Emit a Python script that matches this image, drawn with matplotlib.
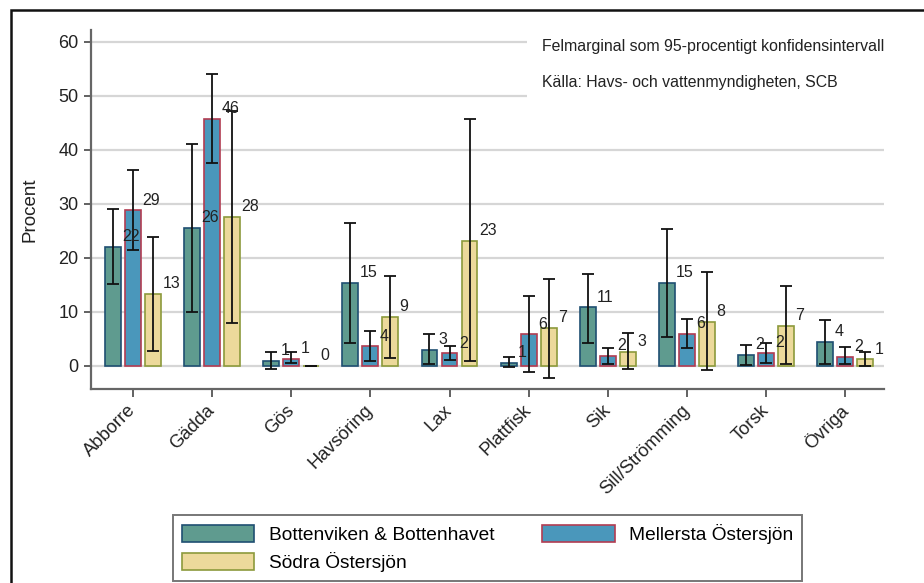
import numpy as np
import matplotlib
matplotlib.use('Agg')
import matplotlib.pyplot as plt
from matplotlib.patches import Rectangle

plt.rcParams['font.family'] = ['Liberation Sans', 'DejaVu Sans']

# andel per art och havsområde, med 95 % konfidensintervall
species = ['Abborre', 'Gädda', 'Gös', 'Havsöring', 'Lax', 'Plattfisk', 'Sik',
           'Sill/Strömming', 'Torsk', 'Övriga']

botten = [22.0, 25.6, 0.9, 15.4, 2.9, 0.6, 10.8, 15.4, 2.0, 4.4]
botten_lo = [15.1, 10.0, -0.6, 4.3, 0.3, -0.3, 4.3, 5.4, 0.1, 0.3]
botten_hi = [29.0, 41.1, 2.6, 26.4, 5.8, 1.7, 17.0, 25.3, 3.9, 8.5]

mellersta = [28.8, 45.8, 1.3, 3.6, 2.3, 5.8, 1.8, 5.9, 2.4, 1.7]
mellersta_lo = [21.4, 37.6, 0.5, 0.8, 1.1, -1.2, 0.3, 3.3, 0.5, 0.3]
mellersta_hi = [36.2, 54.0, 2.6, 6.5, 3.6, 13.0, 3.2, 8.7, 4.2, 3.4]

sodra = [13.3, 27.6, 0.0, 9.1, 23.2, 7.0, 2.6, 8.2, 7.4, 1.2]
sodra_lo = [2.8, 7.9, 0.0, 1.5, 0.8, -2.2, -0.6, -0.7, 0.3, -0.1]
sodra_hi = [23.8, 47.2, 0.0, 16.7, 45.8, 16.1, 6.1, 17.4, 14.8, 2.6]

series = [
    ('Bottenviken & Bottenhavet', botten, botten_lo, botten_hi, '#5f9b8f', '#1f4f72'),
    ('Mellersta Östersjön', mellersta, mellersta_lo, mellersta_hi, '#4a97bb', '#b23c52'),
    ('Södra Östersjön', sodra, sodra_lo, sodra_hi, '#ecd99b', '#8c9a3c'),
]

fig = plt.figure(figsize=(9.24, 5.83), dpi=100)
ax = fig.add_axes([0.0985, 0.3328, 0.8582, 0.6157])

x = np.arange(len(species))
width = 0.2
step = 0.253

handles = []
for i, (name, vals, lo, hi, face, edge) in enumerate(series):
    pos = x + (i - 1) * step
    vals = np.array(vals)
    err = [vals - np.array(lo), np.array(hi) - vals]
    b = ax.bar(pos, vals, width, color=face, edgecolor=edge, linewidth=1.2,
               label=name, zorder=3)
    handles.append(b)
    ax.errorbar(pos, vals, yerr=err, fmt='none', ecolor='#111111',
                elinewidth=1.3, capsize=4, capthick=1.3, zorder=5)
    for p, v in zip(pos, vals):
        ax.annotate(f'{v:.0f}', xy=(p + width / 2, v), xytext=(1, 2),
                    textcoords='offset points', ha='left', va='bottom',
                    fontsize=11.5, color='#222222', zorder=6)

ax.set_xlim(-0.53, 9.49)
ax.set_ylim(-4.3, 62.2)
ax.set_yticks(range(0, 61, 10))
ax.set_xticks(x)
ax.set_xticklabels(species, rotation=45, ha='right', va='center',
                   rotation_mode='anchor')
ax.tick_params(axis='y', labelsize=13, length=5, width=1.3, color='#555555',
               pad=4, labelcolor='#222222')
ax.tick_params(axis='x', labelsize=13.2, length=6, width=1.3, color='#555555',
               pad=7.5, labelcolor='#222222')
ax.grid(axis='y', color='#d6d6d6', linewidth=1.6, zorder=0)
ax.set_axisbelow(True)
for s in ['top', 'right']:
    ax.spines[s].set_visible(False)
for s in ['left', 'bottom']:
    ax.spines[s].set_color('#666666')
    ax.spines[s].set_linewidth(1.6)
ax.set_ylabel('Procent', fontsize=13.5, color='#222222')
ax.yaxis.set_label_coords(-0.066, 0.5)

# vit ruta bakom källtexten
ax.add_patch(Rectangle((0.55, 0.78), 0.45, 0.22, transform=ax.transAxes,
                       facecolor='white', edgecolor='none', zorder=1))
ax.text(0.569, 0.953, 'Felmarginal som 95-procentigt konfidensintervall',
        transform=ax.transAxes, fontsize=11.4, va='center', color='#222222',
        zorder=2)
ax.text(0.569, 0.855, 'Källa: Havs- och vattenmyndigheten, SCB',
        transform=ax.transAxes, fontsize=11.4, va='center', color='#222222',
        zorder=2)

leg = fig.legend([handles[0], handles[2], handles[1]],
                 [series[0][0], series[2][0], series[1][0]],
                 ncol=2, loc='lower left',
                 bbox_to_anchor=(173 / 924, 2 / 583),
                 fontsize=13.8, frameon=True, fancybox=False,
                 handlelength=3.8, handleheight=1.0, handletextpad=0.75,
                 columnspacing=2.5, labelspacing=0.45, borderpad=0.45,
                 borderaxespad=0)
leg.get_frame().set_edgecolor('#555555')
leg.get_frame().set_linewidth(1.4)

# ram runt hela figuren
fig.add_artist(Rectangle((11 / 924, -0.05), 1.0, (573 / 583) + 0.05,
                         transform=fig.transFigure, fill=False,
                         edgecolor='#111111', linewidth=1.8))

fig.savefig('out.png', dpi=100)
